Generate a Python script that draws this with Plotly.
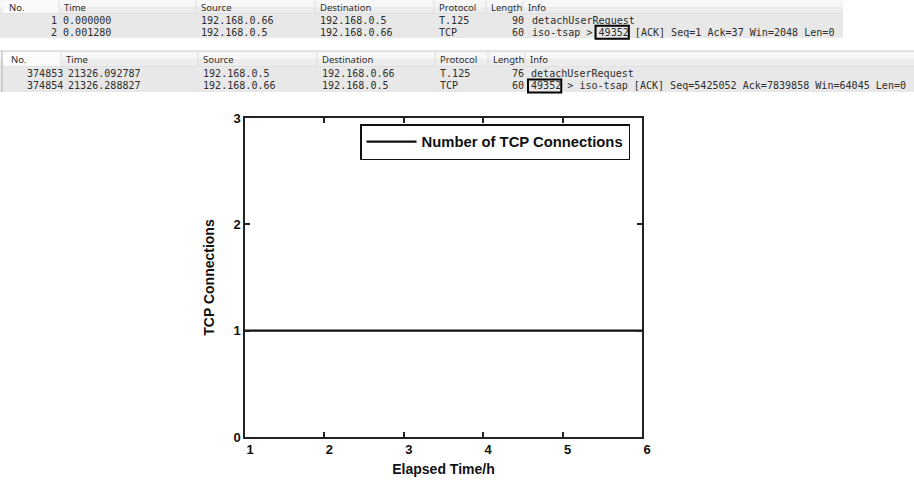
import plotly.graph_objects as go

# ---------------- chart data ----------------
elapsed_hours = [1, 2, 3, 4, 5, 6]
tcp_connections = [1, 1, 1, 1, 1, 1]
x_tick_values = [1, 2, 3, 4, 5, 6]
y_tick_values = [0, 1, 2, 3]
series_name = "Number of TCP Connections"
x_title = "Elapsed Time/h"
y_title = "TCP Connections"

# ---------------- capture table data ----------------
table_headers = ["No.", "Time", "Source", "Destination", "Protocol", "Length", "Info"]

start_no = ["1", "2"]
start_time = ["0.000000", "0.001280"]
start_source = ["192.168.0.66", "192.168.0.5"]
start_destination = ["192.168.0.5", "192.168.0.66"]
start_protocol = ["T.125", "TCP"]
start_length = ["90", "60"]
start_info = ["detachUserRequest", "iso-tsap > 49352 [ACK] Seq=1 Ack=37 Win=2048 Len=0"]

end_no = ["374853", "374854"]
end_time = ["21326.092787", "21326.288827"]
end_source = ["192.168.0.5", "192.168.0.66"]
end_destination = ["192.168.0.66", "192.168.0.5"]
end_protocol = ["T.125", "TCP"]
end_length = ["76", "60"]
end_info = ["detachUserRequest", "49352 > iso-tsap [ACK] Seq=5425052 Ack=7839858 Win=64045 Len=0"]

highlight_port = "49352"

# ---------------- layout constants ----------------
W, H = 914, 483
L, R, T, B = 245, 642, 118, 437
PW, PH = R - L, B - T


def px(x):
    return (x - L) / PW


def py(y):
    return (B - y) / PH


MONO = "DejaVu Sans Mono"
SANS = "Noto Sans"
CW = 6.05          # monospace char width in px
MONO_SIZE = 10.05
TEXT_COL = "#2e2e2e"

shapes = []
annotations = []


def rect(x0, y0, x1, y1, fill, line=None, lw=0):
    shapes.append(dict(type="rect", xref="paper", yref="paper",
                       x0=px(x0), x1=px(x1), y0=py(y1), y1=py(y0),
                       fillcolor=fill, line=dict(width=lw, color=line or fill),
                       layer="below"))


def hline(x0, x1, y, color, w=1):
    shapes.append(dict(type="line", xref="paper", yref="paper",
                       x0=px(x0), x1=px(x1), y0=py(y), y1=py(y),
                       line=dict(color=color, width=w)))


def vline(x, y0, y1, color, w=1):
    shapes.append(dict(type="line", xref="paper", yref="paper",
                       x0=px(x), x1=px(x), y0=py(y0), y1=py(y1),
                       line=dict(color=color, width=w)))


def text(x, y, s, font, size, anchor="left", color=TEXT_COL):
    annotations.append(dict(xref="paper", yref="paper", x=px(x), y=py(y),
                            text=s, showarrow=False, xanchor=anchor,
                            yanchor="middle", borderpad=0,
                            font=dict(family=font, size=size, color=color)))


def panel(top, right, header_x, cols_x, rows, row_h, header_h, border=False):
    # header bar
    rect(0, top, right, top + header_h * 0.5, "#f7f7f7")
    rect(0, top + header_h * 0.5, right, top + header_h, "#ececec")
    hline(0, right, top + header_h, "#d4d4d4")
    if border:
        hline(0, right, top, "#c8c8c8")
        vline(2, top, top + header_h + row_h * len(rows) + 1, "#b0b0b0")
    rect(3, top + 1, header_x[1] - 3, top + header_h - 1, "#fbfbfb")
    for hx, name in zip(header_x, table_headers):
        text(hx, top + header_h / 2, name, SANS, 9.5)
    for hx in header_x[1:]:
        vline(hx - 4, top + 1, top + header_h - 1, "#dcdcdc")
    # rows
    y0 = top + header_h + 1
    rect(0, y0, right, y0 + row_h * len(rows), "#e8e8e8")
    for i, r in enumerate(rows):
        yc = y0 + row_h * (i + 0.5)
        no, tm, src, dst, proto, ln, info = r
        text(cols_x[0], yc, no, MONO, MONO_SIZE, anchor="right")
        text(cols_x[1], yc, tm, MONO, MONO_SIZE)
        text(cols_x[2], yc, src, MONO, MONO_SIZE)
        text(cols_x[3], yc, dst, MONO, MONO_SIZE)
        text(cols_x[4], yc, proto, MONO, MONO_SIZE)
        text(cols_x[5], yc, ln, MONO, MONO_SIZE, anchor="right")
        text(cols_x[6], yc, info, MONO, MONO_SIZE)
        k = info.find(highlight_port)
        if k >= 0:
            bx0 = cols_x[6] + k * CW - 2
            bx1 = bx0 + len(highlight_port) * CW + 3
            shapes.append(dict(type="rect", xref="paper", yref="paper",
                               x0=px(bx0), x1=px(bx1),
                               y0=py(yc + 6.5), y1=py(yc - 6.5),
                               line=dict(color="#000000", width=2),
                               fillcolor="rgba(0,0,0,0)"))


panel(0, 843, [8, 63, 200, 319, 438, 490, 527],
      [58, 62, 200, 319, 438, 525, 531],
      list(zip(start_no, start_time, start_source, start_destination,
               start_protocol, start_length, start_info)),
      row_h=11.5, header_h=14)

panel(51, 914, [10, 65, 202, 321, 439, 492, 529],
      [64, 67, 202, 321, 439, 525, 530],
      list(zip(end_no, end_time, end_source, end_destination,
               end_protocol, end_length, end_info)),
      row_h=12, header_h=16, border=True)

# ---------------- chart ----------------
fig = go.Figure()
fig.add_trace(go.Scatter(x=elapsed_hours, y=tcp_connections, mode="lines",
                         name=series_name,
                         line=dict(color="#111111", width=2.2)))

axis_font = dict(family="Liberation Sans", size=13, color="#111111", weight="bold")
title_font = dict(family="Liberation Sans", size=14, color="#111111", weight="bold")

fig.update_layout(
    width=W, height=H, autosize=False,
    margin=dict(l=L, r=W - R, t=T, b=H - B, pad=0),
    paper_bgcolor="white", plot_bgcolor="white",
    showlegend=True,
    legend=dict(x=px(360), y=py(124), xanchor="left", yanchor="top",
                bordercolor="#111111", borderwidth=1.5, bgcolor="white",
                font=dict(family="Liberation Sans", size=14.8, color="#111111", weight="bold"),
                itemwidth=50),
    xaxis=dict(range=[1, 6], tickvals=x_tick_values, ticks="inside", ticklen=5,
               tickwidth=1.5, tickcolor="#222222", showline=True, linewidth=1.5,
               linecolor="#222222", mirror="ticks", showgrid=False, zeroline=False,
               tickfont=axis_font, ticklabelshift=5, automargin=False,
               title=dict(text=x_title, font=title_font, standoff=8)),
    yaxis=dict(range=[0, 3], tickvals=y_tick_values, ticks="inside", ticklen=5,
               tickwidth=1.5, tickcolor="#222222", showline=True, linewidth=1.5,
               linecolor="#222222", mirror="ticks", showgrid=False, zeroline=False,
               tickfont=axis_font, automargin=False,
               title=dict(text=y_title, font=title_font, standoff=16)),
    shapes=shapes,
    annotations=annotations,
)

fig.write_html("out.html",
               config={"displayModeBar": False},
               post_script="document.body.style.margin='0';document.body.style.padding='0';")
